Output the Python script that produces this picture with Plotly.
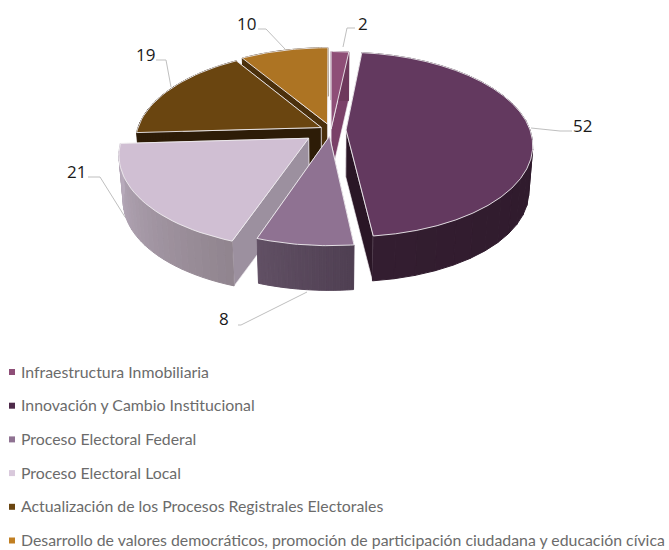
import math
import plotly.graph_objects as go

categories = [
    "Infraestructura Inmobiliaria",
    "Innovación y Cambio Institucional",
    "Proceso Electoral Federal",
    "Proceso Electoral Local",
    "Actualización de los Procesos Registrales Electorales",
    "Desarrollo de valores democráticos, promoción de participación ciudadana y educación cívica",
]
values = [2, 52, 8, 21, 19, 10]

# styling
top_colors = ["#8E4E77", "#63395F", "#8F7292", "#D0BFD3", "#6A4510", "#AD7423"]
radial_colors = ["#7A4068", "#2A1626", "#5A4860", "#9C909F", "#2D1C07", "#4B300C"]
# wall gradient: colour at arc start angle, colour at arc end angle
arc_colors = [
    ("#6E3A5C", "#6E3A5C"),
    ("#2A1727", "#331D30"),
    ("#4F3F52", "#615064"),
    ("#91858F", "#B8ABBC"),
    ("#2D1C07", "#2D1C07"),
    ("#4B300C", "#4B300C"),
]
legend_colors = ["#8E4E77", "#4E2A4A", "#8F7292", "#D9C9DC", "#6A4510", "#C17F22"]
explode = [0.01, 0.082, 0.07, 0.15, 0.06, 0.07]
draw_order = [5, 4, 0, 3, 2, 1]

CX, CY, RX, RY, K, DEPTH, SHRINK = 331, 130, 184, 90, 0.157, 47, 0.98
EDGE = "rgba(240,236,240,0.9)"


def project(X, Y):
    s = 1 / (1 + K * Y)
    return CX + RX * X * s, CY - RY * Y * s


def lower(p):
    return CX + (p[0] - CX) * SHRINK, CY + (p[1] - CY) * SHRINK + DEPTH


def hex_mix(a, b, t):
    ca = [int(a[i:i + 2], 16) for i in (1, 3, 5)]
    cb = [int(b[i:i + 2], 16) for i in (1, 3, 5)]
    return "rgb(%d,%d,%d)" % tuple(round(x + (y - x) * t) for x, y in zip(ca, cb))


def polygon(points, fill, line=None, width=0):
    return go.Scatter(
        x=[p[0] for p in points] + [points[0][0]],
        y=[p[1] for p in points] + [points[0][1]],
        mode="lines",
        fill="toself",
        fillcolor=fill,
        line=dict(color=line or fill, width=width if line else 1),
        hoverinfo="skip",
        showlegend=False,
    )


total = sum(values)
starts, cum = [], 0
for v in values:
    starts.append(cum / total * 2 * math.pi)
    cum += v

fig = go.Figure()
STEPS = 28
for i in draw_order:
    a0 = starts[i]
    a1 = a0 + values[i] / total * 2 * math.pi
    mid = (a0 + a1) / 2
    ox, oy = explode[i] * math.sin(mid), explode[i] * math.cos(mid)
    apex = project(ox, oy)
    rim = [
        project(ox + math.sin(a0 + (a1 - a0) * k / STEPS), oy + math.cos(a0 + (a1 - a0) * k / STEPS))
        for k in range(STEPS + 1)
    ]
    # radial walls: the one lying further back first
    for p in sorted((rim[0], rim[-1]), key=lambda q: q[1]):
        fig.add_trace(polygon([apex, p, lower(p), lower(apex)], radial_colors[i], EDGE, 0.7))
    # outer wall, drawn as shaded strips
    for k in range(STEPS):
        col = hex_mix(arc_colors[i][0], arc_colors[i][1], k / (STEPS - 1))
        fig.add_trace(polygon([rim[k], rim[k + 1], lower(rim[k + 1]), lower(rim[k])], col))
    # top face
    fig.add_trace(polygon([apex] + rim, top_colors[i], EDGE, 1))

# legend
for i, name in enumerate(categories):
    fig.add_trace(go.Scatter(
        x=[12], y=[372 + 33.7 * i], mode="markers",
        marker=dict(symbol="square", size=6, color=legend_colors[i]),
        hoverinfo="skip", showlegend=False,
    ))
    fig.add_annotation(
        x=19, y=371 + 33.7 * i, text=name, showarrow=False, xanchor="left",
        font=dict(family="Lato", size=15.85, color="#6B6B6B"),
    )

# data labels and leader lines
label_pos = [(363, 23), (582, 125), (224, 318), (76, 171), (145, 54), (246, 23)]
leaders = [
    [(355, 28), (347, 28), (343, 47)],
    [(572, 131), (560, 131), (531, 128)],
    [(238, 325), (241, 325), (307, 292)],
    [(88, 177), (100, 177), (125, 217)],
    [(156, 60), (166, 60), (171, 87)],
    [(258, 29), (266, 29), (285, 49)],
]
for v, pos, pts in zip(values, label_pos, leaders):
    fig.add_annotation(
        x=pos[0], y=pos[1], text=str(v), showarrow=False,
        font=dict(family="Open Sans", size=17, color="#1A1A1A"),
    )
    fig.add_shape(
        type="path",
        path="M " + " L ".join(f"{a},{b}" for a, b in pts),
        line=dict(color="#BFBFBF", width=1),
    )

fig.update_layout(
    width=669, height=550,
    margin=dict(l=0, r=0, t=0, b=0),
    paper_bgcolor="white", plot_bgcolor="white",
    xaxis=dict(range=[0, 669], visible=False, fixedrange=True),
    yaxis=dict(range=[550, 0], visible=False, fixedrange=True),
    showlegend=False,
)
fig.write_html(
    "out.html",
    config={"displayModeBar": False},
    post_script="document.body.style.margin='0';document.documentElement.style.overflow='hidden';",
)
